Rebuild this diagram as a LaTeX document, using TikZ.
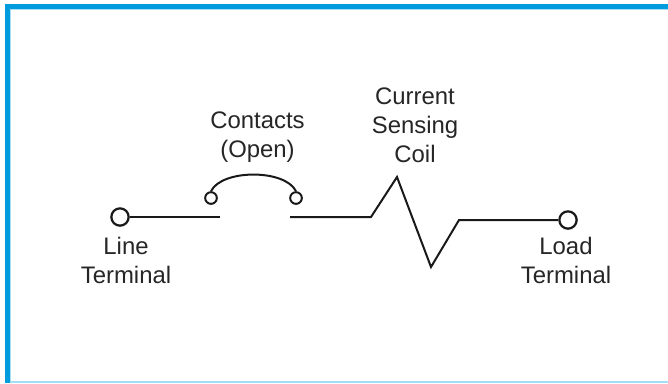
\documentclass[tikz,border=0pt]{standalone}
\usepackage{fontspec}
\setmainfont{Liberation Sans}
\tikzset{
    terminal/.style={circle,draw=black!90,fill=white,line width=1.9pt,inner sep=0pt,minimum size=0.52cm},
    contact/.style={circle,draw=black!90,fill=white,line width=1.7pt,inner sep=0pt,minimum size=0.35cm},
    wire/.style={draw=black!90,line width=1.7pt,line join=miter},
    caption/.style={align=center,inner sep=0pt,text=black!85,font=\fontsize{20.4}{24.8}\selectfont}
}
\definecolor{framebar}{HTML}{009CDE}
\definecolor{frameedge}{HTML}{A5DDF3}
\begin{document}
\begin{tikzpicture}[x=0.03cm,y=-0.03cm]
            \useasboundingbox (0,0) rectangle (668,383);
            \fill[white] (0,0) rectangle (668,383);
            \fill[frameedge] (5,4) rectangle (668,383);
            \fill[framebar] (5,4) rectangle (668,9);
            \fill[framebar] (5,4) rectangle (10,383);
            \fill[white] (11,10) rectangle (668,381);
            \node[terminal] (line) at (120,217){};
            \node[terminal] (load) at (568,220){};
            \node[contact] (left) at (211,198){};
            \node[contact] (right) at (296,198){};
            \coordinate (gapleft) at (220,217);
            \coordinate (gapright) at (290,217);
            \coordinate (coila) at (371,217);
            \coordinate (coilb) at (397,177);
            \coordinate (coilc) at (431,267);
            \coordinate (coild) at (459,220);
            \draw[wire] (line) -- (gapleft);
            \draw[wire] (gapright) -- (coila) -- (coilb) -- (coilc) -- (coild) -- (load);
            \draw[wire] (left.north) .. controls (222,169) and (285,169) .. (right.north);
            \node[caption] (contacts) at (257.5,137.5){Contacts\\(Open)};
            \node[caption] (coil) at (415,125){Current\\Sensing\\Coil};
            \node[caption] (linelabel) at (126,260){Line\\Terminal};
            \node[caption] (loadlabel) at (566,260){Load\\Terminal};
        \end{tikzpicture}
\end{document}
